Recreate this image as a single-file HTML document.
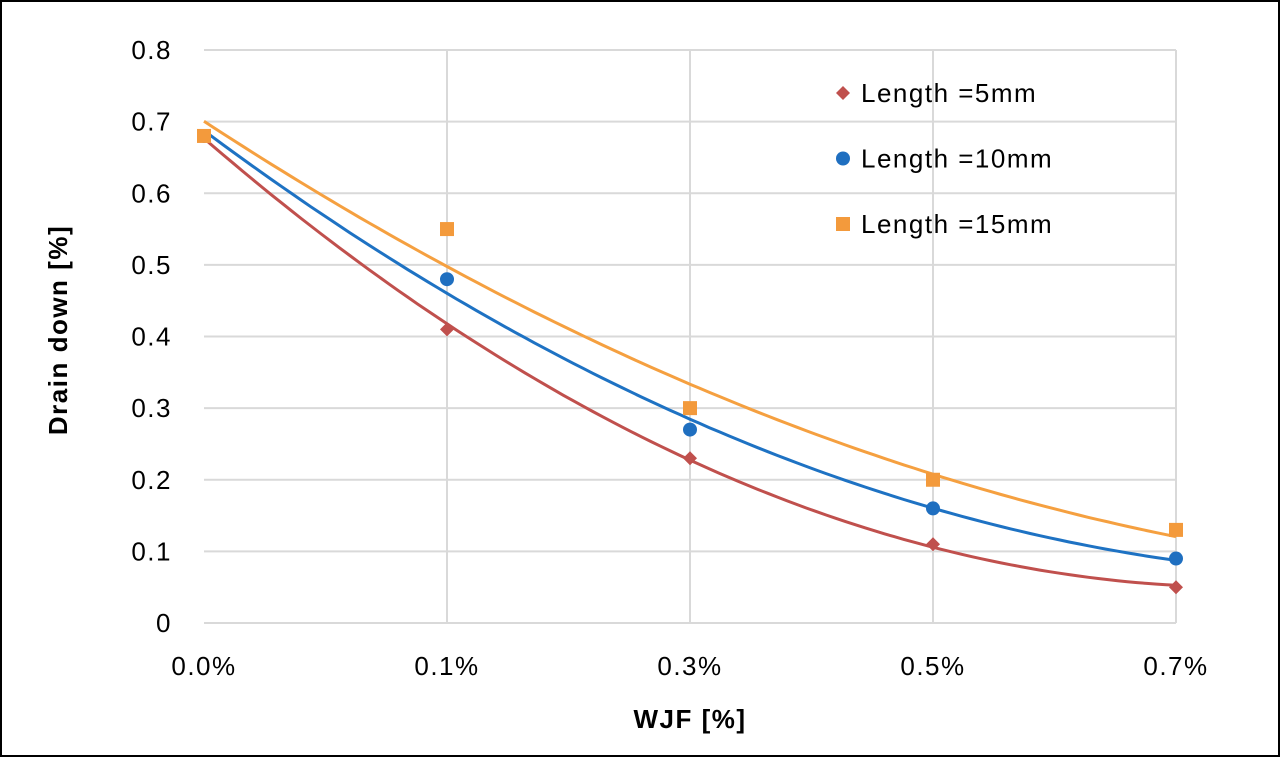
<!DOCTYPE html>
<html><head><meta charset="utf-8"><style>
html,body{margin:0;padding:0;background:#fff}
svg{display:block;font-family:"Liberation Sans",Arial,sans-serif}
</style></head><body>
<svg id="chart" width="1280" height="757" viewBox="0 0 1280 757">
<rect x="1" y="1" width="1278" height="755" fill="#fff" stroke="#000" stroke-width="2"/>
<g id="grid"></g>
<g id="trends"></g>
<g id="marks"></g>
<g id="ticks"></g>
<text x="67" y="330" transform="rotate(-90 67 330)" text-anchor="middle" font-size="26" font-weight="bold" letter-spacing="1.5" fill="#000">Drain down [%]</text>
<text x="690" y="728" text-anchor="middle" font-size="26" font-weight="bold" letter-spacing="1.5" fill="#000">WJF [%]</text>
<g id="legend"></g>
</svg>
<script>
const categories = ["0.0%","0.1%","0.3%","0.5%","0.7%"];
const yTicks = [0,0.1,0.2,0.3,0.4,0.5,0.6,0.7,0.8];
const yTickLabels = ["0","0.1","0.2","0.3","0.4","0.5","0.6","0.7","0.8"];
const seriesNames = ["Length =5mm","Length =10mm","Length =15mm"];
const s5 = [0.68,0.41,0.23,0.11,0.05];
const s10 = [0.68,0.48,0.27,0.16,0.09];
const s15 = [0.68,0.55,0.30,0.20,0.13];

const NS="http://www.w3.org/2000/svg";
const X0=204,X1=1176,Y0=623,Y1=50;
const xPos=i=>X0+(X1-X0)*i/(categories.length-1);
const yPos=v=>Y0-(Y0-Y1)*v/0.8;
function mk(tag,attrs,parent){const e=document.createElementNS(NS,tag);for(const k in attrs)e.setAttribute(k,attrs[k]);parent.appendChild(e);return e;}
const grid=document.getElementById('grid'),ticks=document.getElementById('ticks');
yTicks.forEach((v,i)=>{
  if(v>0){const l=mk('line',{x1:X0,x2:X1,y1:yPos(v),y2:yPos(v),stroke:'#d9d9d9','stroke-width':2},grid);
  
  }
  const t=mk('text',{x:172,y:yPos(v)+9,'text-anchor':'end','font-size':26,'letter-spacing':1.5,fill:'#000'},ticks);
  t.textContent=yTickLabels[i];
  
  
});
categories.forEach((c,i)=>{
  if(i>0){const l=mk('line',{x1:xPos(i),x2:xPos(i),y1:Y1,y2:Y0,stroke:'#d9d9d9','stroke-width':2},grid);
  
  }
  const t=mk('text',{x:xPos(i),y:675,'text-anchor':'middle','font-size':26,'letter-spacing':1.5,fill:'#000'},ticks);
  t.textContent=c;
  
  
});
const ax=mk('line',{x1:X0,x2:X1,y1:Y0,y2:Y0,stroke:'#d9d9d9','stroke-width':2},grid);



function quadFit(ys){
  let S=[0,0,0,0,0],T=[0,0,0];
  ys.forEach((y,x)=>{for(let k=0;k<5;k++)S[k]+=Math.pow(x,k);for(let k=0;k<3;k++)T[k]+=y*Math.pow(x,k);});
  const A=[[S[0],S[1],S[2],T[0]],[S[1],S[2],S[3],T[1]],[S[2],S[3],S[4],T[2]]];
  for(let i=0;i<3;i++){for(let j=i+1;j<3;j++){const f=A[j][i]/A[i][i];for(let k=i;k<4;k++)A[j][k]-=f*A[i][k];}}
  const c=[0,0,0];for(let i=2;i>=0;i--){let s=A[i][3];for(let k=i+1;k<3;k++)s-=A[i][k]*c[k];c[i]=s/A[i][i];}
  return x=>c[0]+c[1]*x+c[2]*x*x;
}
const colors=['#c0504d','#1f6fc0','#f39a3c'];
const lineColors=['#c0504d','#1e72c3','#f5a040'];
const allSeries=[s5,s10,s15];
const trends=document.getElementById('trends'),marks=document.getElementById('marks'),legend=document.getElementById('legend');
function marker(k,cx,cy,parent){
  let e;
  if(k===0)e=mk('path',{d:`M${cx} ${cy-7}L${cx+7} ${cy}L${cx} ${cy+7}L${cx-7} ${cy}Z`,fill:colors[0]},parent);
  else if(k===1)e=mk('circle',{cx:cx,cy:cy,r:7,fill:colors[1]},parent);
  else e=mk('rect',{x:cx-7,y:cy-7,width:14,height:14,fill:colors[2]},parent);
  return e;
}
allSeries.forEach((ys,k)=>{
  const f=quadFit(ys);let d='';
  for(let s=0;s<=100;s++){const x=4*s/100;d+=(s?'L':'M')+xPos(x).toFixed(1)+' '+yPos(f(x)).toFixed(1);}
  const p=mk('path',{d:d,fill:'none',stroke:lineColors[k],'stroke-width':3},trends);
  
  
  ys.forEach((v,i)=>{
    const m=marker(k,xPos(i),yPos(v),marks);
    
    
  });
  const ly=93+k*65.5;
  const lm=marker(k,843,ly,legend);
  
  
  const lt=mk('text',{x:861,y:ly+9,'font-size':26,'letter-spacing':1.5,fill:'#000'},legend);
  lt.textContent=seriesNames[k];
  
  
});
</script>
</body></html>
